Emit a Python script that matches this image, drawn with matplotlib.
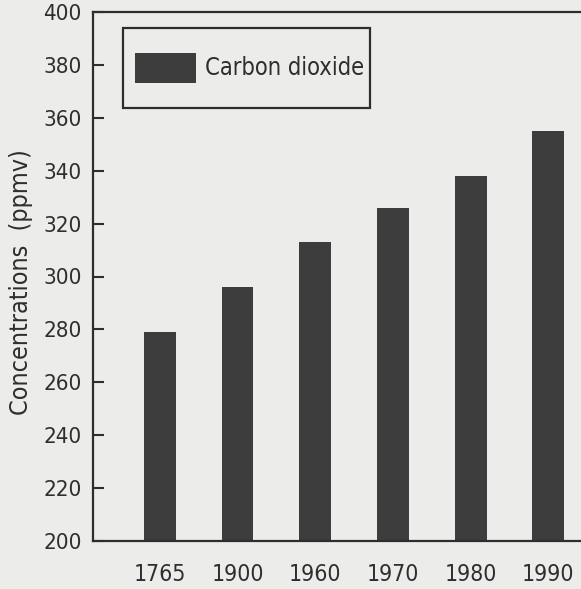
import matplotlib
matplotlib.use("Agg")
import matplotlib.pyplot as plt
from matplotlib import font_manager
from matplotlib.patches import Rectangle

years = ["1765", "1900", "1960", "1970", "1980", "1990"]
co2_ppmv = [279, 296, 313, 326, 338, 355]
y_ticks = [200, 220, 240, 260, 280, 300, 320, 340, 360, 380, 400]
series_label = "Carbon dioxide"
y_label = "Concentrations  (ppmv)"

names = {f.name for f in font_manager.fontManager.ttflist}
if "Liberation Sans Narrow" in names:
    fam = ["Liberation Sans Narrow", "DejaVu Sans"]
    stretch = "normal"
else:
    fam = ["DejaVu Sans"]
    stretch = "condensed"
plt.rcParams["font.family"] = fam

bg = "#ececea"
ink = "#2e2e2e"
bar_c = "#3d3d3d"

fig = plt.figure(figsize=(5.81, 5.89), dpi=100, facecolor=bg)
ax = fig.add_axes([93 / 581, 1 - 541 / 589, 1 - 93 / 581, (541 - 12) / 589])
ax.set_facecolor(bg)

x = list(range(len(years)))
ax.bar(x, co2_ppmv, width=0.41, color=bar_c)
ax.set_ylim(200, 400)
ax.set_xlim(-0.86, 5.42)

ax.set_yticks(y_ticks)
ax.set_yticklabels([str(v) for v in y_ticks], fontsize=16, color=ink, fontstretch=stretch)
ax.set_xticks(x)
ax.set_xticklabels(years, fontsize=16.5, color=ink, fontstretch=stretch)
ax.tick_params(axis="y", direction="in", length=8, width=1.5, color=ink, pad=8)
ax.tick_params(axis="x", length=0, pad=16)

for s in ["left", "bottom", "top"]:
    ax.spines[s].set_color(ink)
    ax.spines[s].set_linewidth(1.6)
ax.spines["right"].set_visible(False)

ax.set_ylabel(y_label, fontsize=18, color=ink, fontstretch=stretch)
ax.yaxis.set_label_coords(-0.123, 0.49)

# legend box (axes coordinates)
def axx(px):
    return (px - 93) / 488
def axy(py):
    return (541 - py) / 529

ax.add_patch(Rectangle((axx(123), axy(108)), axx(370) - axx(123), axy(28) - axy(108),
                       transform=ax.transAxes, facecolor="none", edgecolor=ink,
                       linewidth=1.6, clip_on=False))
ax.add_patch(Rectangle((axx(135), axy(83)), axx(196) - axx(135), axy(53) - axy(83),
                       transform=ax.transAxes, facecolor=bar_c, edgecolor="none",
                       clip_on=False))
ax.text(axx(205), axy(68), series_label, transform=ax.transAxes, fontsize=17,
        color=ink, va="center", ha="left", fontstretch=stretch)

fig.savefig("out.png", dpi=100, facecolor=bg)
